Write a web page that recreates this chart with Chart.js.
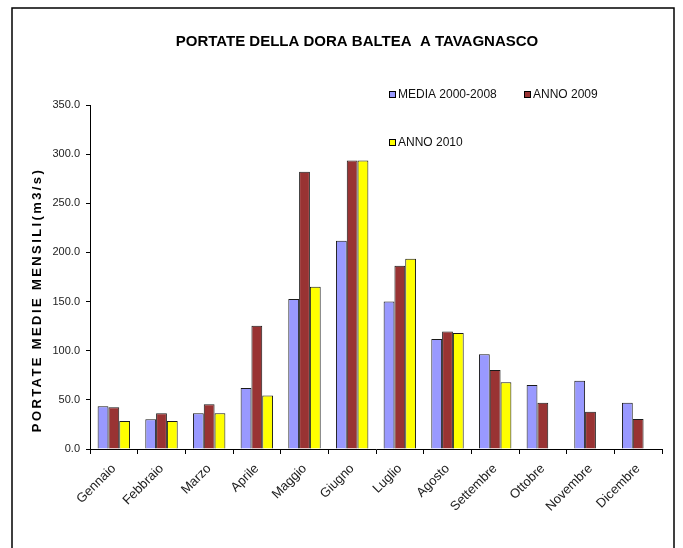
<!DOCTYPE html>
<html>
<head>
<meta charset="utf-8">
<script src="https://cdn.jsdelivr.net/npm/chart.js@4"></script>
<style>
  html, body { margin: 0; padding: 0; background: #fff; }
  #chart { display: block; }
</style>
</head>
<body>
<canvas id="chart" width="683" height="548"></canvas>
<script>
const mesi = ['Gennaio', 'Febbraio', 'Marzo', 'Aprile', 'Maggio', 'Giugno',
              'Luglio', 'Agosto', 'Settembre', 'Ottobre', 'Novembre', 'Dicembre'];
const media20002008 = [43.5, 30.2, 36.3, 62.0, 152.5, 212.0, 150.0, 112.0, 96.5, 65.0, 69.5, 47.0];
const anno2009 = [42.5, 36.3, 45.5, 125.5, 282.0, 293.5, 186.5, 119.5, 80.5, 47.0, 38.0, 30.5];
const anno2010 = [28.5, 28.5, 36.3, 54.5, 165.0, 293.5, 193.5, 118.0, 68.0, null, null, null];
const yTicks = ['0.0', '50.0', '100.0', '150.0', '200.0', '250.0', '300.0', '350.0'];

const FONT = '"Liberation Sans", Arial, sans-serif';

// cornice, titolo, titolo asse y e legenda come nel grafico Excel
const decorPlugin = {
    id: 'decor',
    beforeDraw(chart) {
        const ctx = chart.ctx;
        ctx.save();
        ctx.fillStyle = '#fff';
        ctx.fillRect(0, 0, chart.width, chart.height);
        ctx.strokeStyle = '#000';
        ctx.lineWidth = 1.5;
        ctx.strokeRect(12, 8, 662, 560);
        ctx.restore();
    },
    afterDraw(chart) {
        const ctx = chart.ctx;
        ctx.save();
        ctx.fillStyle = '#000';
        ctx.font = 'bold 15px ' + FONT;
        ctx.textAlign = 'center';
        ctx.textBaseline = 'middle';
        ctx.fillText('PORTATE DELLA DORA BALTEA  A TAVAGNASCO', 357, 42);

        // titolo asse verticale, spaziato
        ctx.save();
        ctx.translate(37, 300);
        ctx.rotate(-Math.PI / 2);
        ctx.font = 'bold 13px ' + FONT;
        ctx.letterSpacing = '2.4px';
        ctx.fillText('PORTATE MEDIE MENSILI(m3/s)', 0, 0);
        ctx.restore();

        const items = [
            { ds: 0, x: 389, y: 95 },
            { ds: 1, x: 524, y: 95 },
            { ds: 2, x: 389, y: 143 }
        ];
        ctx.font = '12px ' + FONT;
        ctx.textAlign = 'left';
        items.forEach(it => {
            const ds = chart.data.datasets[it.ds];
            ctx.fillStyle = ds.backgroundColor;
            ctx.fillRect(it.x, it.y - 4, 7, 7);
            ctx.strokeStyle = '#000';
            ctx.lineWidth = 1;
            ctx.strokeRect(it.x + 0.5, it.y - 3.5, 6, 6);
            ctx.fillStyle = '#111';
            ctx.fillText(ds.label, it.x + 9, it.y);
        });
        ctx.restore();
    }
};

new Chart(document.getElementById('chart'), {
    type: 'bar',
    data: {
        labels: mesi,
        datasets: [
            { label: 'MEDIA 2000-2008', data: media20002008, backgroundColor: '#9999FF' },
            { label: 'ANNO 2009', data: anno2009, backgroundColor: '#993333' },
            { label: 'ANNO 2010', data: anno2010, backgroundColor: '#FFFF00' }
        ].map(d => Object.assign(d, {
            borderColor: '#1a1a1a',
            borderWidth: 1,
            categoryPercentage: 0.68,
            barPercentage: 1
        }))
    },
    options: {
        responsive: false,
        animation: false,
        devicePixelRatio: 1,
        layout: { padding: { left: 12, right: 21, top: 105, bottom: 0 } },
        plugins: {
            legend: { display: false },
            title: { display: false },
            tooltip: { enabled: false }
        },
        scales: {
            x: {
                border: { color: '#000', width: 1 },
                grid: { offset: true, drawOnChartArea: false, drawTicks: true, tickLength: 5, color: '#000' },
                ticks: {
                    minRotation: 45,
                    maxRotation: 45,
                    padding: 7,
                    color: '#222',
                    font: { family: FONT, size: 13 }
                },
                afterFit(scale) { scale.height = 99; }
            },
            y: {
                min: 0,
                max: 350,
                border: { color: '#000', width: 1 },
                grid: { drawOnChartArea: false, drawTicks: true, tickLength: 4, color: '#000' },
                ticks: {
                    stepSize: 50,
                    padding: 6,
                    color: '#222',
                    font: { family: FONT, size: 11 },
                    callback: (v, i) => yTicks[i]
                },
                afterFit(scale) { scale.width = 78; }
            }
        }
    },
    plugins: [decorPlugin]
});
</script>
</body>
</html>
